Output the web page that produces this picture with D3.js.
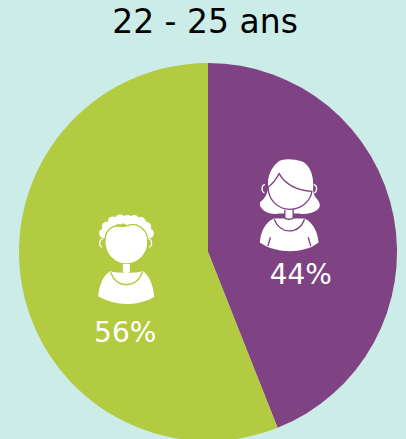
<!DOCTYPE html>
<html lang="fr">
<head>
<meta charset="UTF-8" />
<title>22 - 25 ans</title>
<style>
  html, body { margin: 0; padding: 0; background: #cbece7; overflow: hidden; }
  svg { display: block; }
  text { font-family: "DejaVu Sans", sans-serif; }
</style>
</head>
<body>
<script src="https://cdn.jsdelivr.net/npm/d3@7/dist/d3.min.js"></script>
<script>
// values
var title = "22 - 25 ans";
var categories = ["Femmes", "Hommes"];
var values = [44, 56];
var colors = ["#7f4282", "#b3cb40"];

var w = 406, h = 439;
var cx = 208, cy = 252, radius = 189;

var svg = d3.select("body").append("svg")
  .attr("width", w)
  .attr("height", h);

svg.append("text")
  .attr("x", 205)
  .attr("y", 33)
  .attr("text-anchor", "middle")
  .attr("font-size", 33)
  .attr("fill", "#000")
  .text(title);

var color = d3.scaleOrdinal().domain(categories).range(colors);
var pie = d3.pie().sort(null).value(function(d) { return d; });
var arc = d3.arc().innerRadius(0).outerRadius(radius);
var slices = pie(values);

var chart = svg.append("g").attr("transform", "translate(" + cx + "," + cy + ")");

chart.selectAll("path.slice")
  .data(slices)
  .enter()
  .append("path")
  .attr("class", "slice")
  .attr("d", arc)
  .attr("fill", function(d, i) { return color(categories[i]); });

// labels sit under the icons, shifted from the slice centroid
var labelShift = [[0, 50], [10, 72]];
var iconShift = [[-12, -30], [10, -10]];

chart.selectAll("text.pct")
  .data(slices)
  .enter()
  .append("text")
  .attr("class", "pct")
  .attr("x", function(d, i) { return arc.centroid(d)[0] + labelShift[i][0]; })
  .attr("y", function(d, i) { return arc.centroid(d)[1] + labelShift[i][1]; })
  .attr("text-anchor", "middle")
  .attr("font-size", 28)
  .attr("fill", "#fff")
  .text(function(d) { return d.value + "%"; });

// the two little people, drawn at 3x and scaled down
function iconGroup(i, ox, oy) {
  var c = arc.centroid(slices[i]);
  return chart.append("g")
    .attr("transform", "translate(" + (c[0] + iconShift[i][0]) + "," + (c[1] + iconShift[i][1]) + ") scale(0.3333) translate(" + (-ox) + "," + (-oy) + ")");
}

function earPath(e) {
  return "M" + (e[0] - e[2] * 4) + "," + (e[1] - 12) + " C" + (e[0] + e[2] * 8) + "," + (e[1] - 12) + " " + (e[0] + e[2] * 8) + "," + (e[1] + 12) + " " + (e[0] - e[2] * 2) + "," + (e[1] + 12);
}

// woman
var f = iconGroup(0, 147, 177);
var fc = colors[0];
f.append("path").attr("fill", "#fff")
  .attr("d", "M112,52 C125,38 160,40 185,48 C210,58 222,90 220,125 C219,140 222,150 232,162 C242,175 243,186 232,194 C218,204 195,208 175,205 L120,205 C100,208 85,204 74,197 C64,190 58,180 61,170 C74,162 84,145 85,125 C82,95 92,70 112,52 Z");
f.append("path").attr("fill", "#fff").attr("stroke", fc).attr("stroke-width", 4)
  .attr("d", "M85,125 C100,115 110,100 118,85 C135,115 170,135 216,138 C214,165 185,192 150,192 C115,192 85,165 85,125 Z");
f.selectAll("path.ear").data([[72, 130, -1], [225, 130, 1]]).enter().append("path")
  .attr("fill", "none").attr("stroke", "#fff").attr("stroke-width", 4)
  .attr("d", earPath);
f.append("path").attr("fill", "#fff")
  .attr("d", "M102,220 C75,232 62,262 60,292 C85,310 120,318 150,318 C180,318 215,310 236,292 C234,262 220,232 194,220 Z");
f.append("path").attr("fill", "none").attr("stroke", fc).attr("stroke-width", 4)
  .attr("d", "M103,222 C112,245 130,257 148,257 C168,257 186,245 194,222");
f.append("path").attr("fill", "#fff").attr("stroke", fc).attr("stroke-width", 4)
  .attr("d", "M135,194 L135,216 C135,224 160,224 160,216 L160,194");
f.append("path").attr("fill", "none").attr("stroke", fc).attr("stroke-width", 4)
  .attr("d", "M92,276 L84,302 M205,276 L213,302");

// man
var m = iconGroup(1, 135, 165);
var mc = colors[1];
var curls = [[72, 86], [80, 66], [98, 50], [120, 44], [142, 46], [162, 46], [182, 52], [198, 66], [206, 86]];
m.selectAll("circle.curl").data(curls).enter().append("circle")
  .attr("cx", function(p) { return p[0]; })
  .attr("cy", function(p) { return p[1]; })
  .attr("r", 15)
  .attr("fill", "#fff");
m.append("path").attr("fill", "#fff").attr("d", "M80,70 L195,70 L205,100 L72,100 Z");
m.append("path").attr("fill", "#fff").attr("stroke", mc).attr("stroke-width", 4)
  .attr("d", "M74,110 C74,88 84,72 100,66 C112,60 122,68 136,64 C150,60 158,56 172,62 C192,70 203,88 203,112 C203,150 174,178 138,178 C102,178 74,148 74,110 Z");
m.selectAll("path.ear").data([[64, 115, -1], [209, 115, 1]]).enter().append("path")
  .attr("fill", "none").attr("stroke", "#fff").attr("stroke-width", 4)
  .attr("d", earPath);
m.append("path").attr("fill", "#fff")
  .attr("d", "M90,200 C68,212 56,245 54,275 C80,290 110,298 140,298 C170,298 200,290 222,277 C220,245 208,212 188,200 C170,206 110,206 90,200 Z");
m.append("path").attr("fill", "none").attr("stroke", mc).attr("stroke-width", 4)
  .attr("d", "M91,202 C100,226 118,240 138,240 C160,240 178,226 187,202");
m.append("path").attr("fill", "#fff")
  .attr("d", "M128,178 L128,198 C128,210 149,210 149,198 L149,178 Z");
</script>
</body>
</html>
